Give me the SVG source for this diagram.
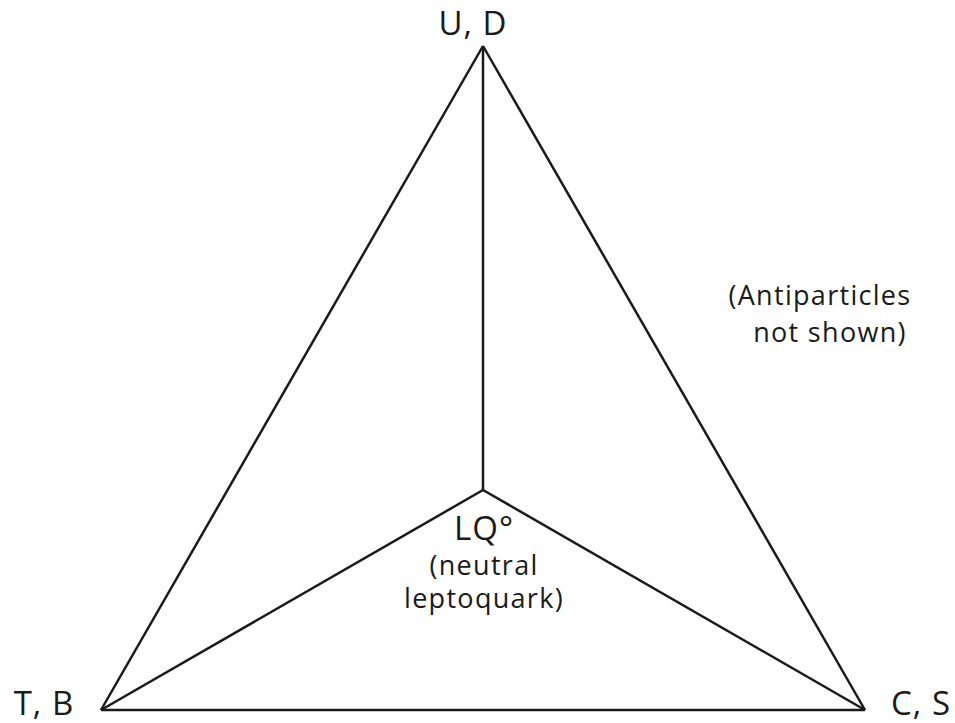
<svg xmlns="http://www.w3.org/2000/svg" width="955" height="723" viewBox="0 0 955 723">
  <style>
    .edge { stroke: #1a1a1a; stroke-width: 2.5; fill: none; stroke-linejoin: miter; }
    .big { font-family: "Open Sans", "DejaVu Sans", sans-serif; font-size: 33px; letter-spacing: 1px; fill: #1a1a1a; }
    .small { font-family: "Open Sans", "DejaVu Sans", sans-serif; font-size: 27px; letter-spacing: 1.3px; fill: #1a1a1a; }
  </style>
  <rect width="955" height="723" fill="#ffffff"/>
  <!-- outer triangle plus the three spokes to the centre point -->
  <g id="connectors">
    <line class="edge" x1="483" y1="46" x2="101" y2="710"/>
    <line class="edge" x1="483" y1="46" x2="865" y2="710"/>
    <line class="edge" x1="101" y1="710" x2="865" y2="710"/>
    <line class="edge" x1="483" y1="46" x2="483" y2="490"/>
    <line class="edge" x1="483" y1="490" x2="101" y2="710"/>
    <line class="edge" x1="483" y1="490" x2="865" y2="710"/>
  </g>
  <g id="node-ud">
    <text class="big" x="473" y="35" text-anchor="middle">U, D</text>
  </g>
  <g id="node-tb">
    <text class="big" x="44" y="715" text-anchor="middle">T, B</text>
  </g>
  <g id="node-cs">
    <text class="big" x="921" y="715" text-anchor="middle">C, S</text>
  </g>
  <g id="node-lq">
    <text class="big" x="484" y="540" text-anchor="middle">LQ°</text>
    <text class="small" x="484" y="575" text-anchor="middle">(neutral</text>
    <text class="small" x="484" y="608" text-anchor="middle">leptoquark)</text>
  </g>
  <g id="note">
    <text class="small" x="820" y="305" text-anchor="middle">(Antiparticles</text>
    <text class="small" x="830" y="342" text-anchor="middle">not shown)</text>
  </g>
</svg>
